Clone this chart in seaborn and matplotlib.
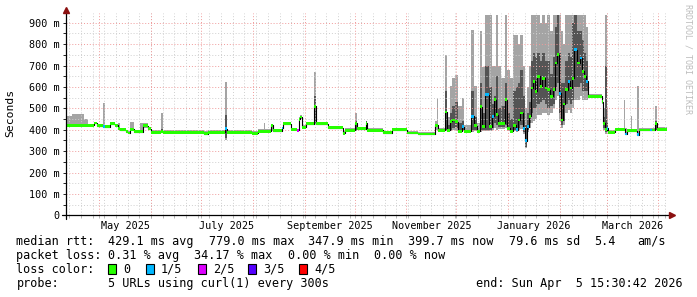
import numpy as np
import pandas as pd
import matplotlib
matplotlib.use("Agg")
import matplotlib.pyplot as plt
import matplotlib.dates as mdates
from matplotlib.patches import Rectangle
from matplotlib.lines import Line2D
import seaborn as sns

nan = float("nan")

# ---------------- data ----------------
start = pd.Timestamp("2025-04-11 01:00")
end = pd.Timestamp("2026-04-06 05:00")

# day offset (from start) at which each step begins
day = [0.0, 3.6, 10.8, 13.2, 16.8, 18.6, 22.2, 23.4, 26.4, 29.4,
       31.2, 32.4, 36.0, 37.4, 38.4, 40.8, 44.4, 46.4, 49.4, 50.9,
       57.2, 58.1, 82.7, 85.1, 95.0, 96.2, 111.5, 115.1, 118.4, 119.3,
       122.8, 124.0, 129.5, 130.3, 135.1, 138.7, 139.6, 140.5, 141.4, 143.8,
       148.7, 149.6, 157.0, 166.0, 167.2, 172.9, 174.1, 179.5, 180.4, 190.0,
       195.4, 204.4, 211.0, 221.2, 222.1, 223.0, 227.0, 228.4, 229.9, 231.4,
       233.2, 235.0, 237.4, 238.5, 242.7, 244.5, 246.3, 248.1, 249.3, 251.1,
       253.2, 255.0, 256.2, 257.4, 258.9, 260.7, 263.1, 264.3, 266.1, 267.9,
       269.7, 270.9, 272.1, 273.9, 275.1, 276.3, 277.5, 278.7, 279.9, 281.1,
       282.3, 284.1, 285.3, 287.1, 288.3, 290.0, 291.8, 293.3, 294.5, 295.4,
       296.6, 297.8, 299.0, 300.8, 302.0, 303.2, 304.4, 306.2, 308.0, 309.2,
       310.4, 311.6, 312.8, 321.2, 322.1, 323.0, 324.2, 325.1, 329.0, 334.1,
       335.0, 336.2, 338.3, 339.2, 341.9, 343.1, 350.0, 350.9, 352.7, 353.9]

# median rtt (ms)
median = [420, 420, 420, 420, 431, 418, 415, 415, 428, 420,
          405, 400, 390, 385, 402, 390, 390, 418, 405, 388,
          390, 388, 382, 388, 405, 388, 383, 392, 392, 392,
          420, 396, 408, 428, 402, 398, 448, 460, 412, 428,
          510, 428, 410, 383, 398, 430, 405, 430, 398, 386,
          400, 385, 380, 420, 420, 398, 483, 398, 440, 446,
          438, 392, 415, 392, 462, 418, 392, 508, 415, 563,
          415, 462, 540, 470, 430, 430, 540, 407, 392, 420,
          400, 446, 478, 407, 348, 414, 462, 595, 626, 579,
          650, 603, 641, 595, 587, 556, 587, 712, 751, 571,
          446, 520, 587, 626, 595, 640, 775, 712, 735, 673,
          649, 626, 556, 532, 430, 400, 407, 388, 402, 402,
          380, 396, 396, 396, 377, 399, 399, 399, 430, 402]

# outer smoke (min / max of the pings, ms)
smoke_lo = [414, 414, 414, 414, 425, 412, 410, 410, 422, 414,
            398, 394, 384, 380, 395, 384, 384, 410, 398, 383,
            383, 383, 377, 383, 350, 383, 378, 386, 386, 386,
            395, 390, 400, 420, 396, 392, 440, 450, 405, 420,
            420, 420, 403, 378, 392, 395, 398, 400, 392, 380,
            394, 379, 374, 400, 400, 390, 395, 390, 395, 400,
            395, 385, 395, 385, 390, 395, 385, 390, 395, 395,
            395, 400, 410, 400, 405, 405, 410, 395, 385, 395,
            390, 400, 405, 380, 315, 390, 410, 430, 440, 450,
            470, 470, 480, 480, 470, 480, 500, 540, 560, 440,
            410, 420, 480, 490, 480, 500, 540, 540, 560, 540,
            540, 540, 548, 520, 400, 380, 390, 380, 396, 396,
            375, 390, 390, 390, 370, 393, 393, 393, 400, 396]
smoke_hi = [462, 475, 452, 428, 438, 425, 527, 422, 435, 428,
            433, 410, 398, 395, 437, 398, 430, 430, 415, 398,
            478, 398, 392, 398, 625, 398, 393, 402, 433, 402,
            428, 405, 415, 436, 410, 405, 458, 468, 420, 437,
            672, 437, 418, 392, 406, 478, 412, 440, 406, 394,
            407, 393, 390, 440, 547, 410, 750, 460, 603, 641,
            657, 510, 547, 420, 864, 603, 430, 860, 695, 937,
            937, 700, 700, 937, 700, 640, 937, 680, 640, 843,
            843, 800, 843, 700, 500, 600, 700, 937, 937, 937,
            937, 900, 937, 900, 937, 860, 937, 937, 937, 937,
            860, 800, 937, 937, 937, 937, 937, 937, 937, 937,
            937, 880, 568, 545, 500, 937, 500, 400, 410, 540,
            410, 405, 462, 405, 604, 406, 406, 406, 510, 414]

# inner (dark) smoke, nan where there is none
core_lo = [nan] * 20 + [388, nan, nan, nan, 360] + [nan] * 15 + \
          [430, nan, nan, nan, nan, 400, nan, 400, nan, nan,
           nan, nan, nan, nan, nan, nan, 400, 395, 400, 410,
           410, 390, 400, 390, 400, 400, 390, 400, 400, 400,
           400, 410, 430, 420, 415, 415, 420, 400, 390, 400,
           395, 410, 420, 390, 320, 400, 430, 480, 500, 500,
           520, 530, 540, 520, 500, 510, 520, 600, 620, 480,
           420, 440, 520, 540, 520, 540, 600, 600, 620, 580,
           580, 580, nan, nan, 410, 390, 395, nan, nan, nan,
           nan, nan, nan, nan, nan, nan, nan, nan, 400, nan]
core_hi = [nan] * 20 + [402, nan, nan, nan, 470] + [nan] * 15 + \
          [560, nan, nan, nan, nan, 440, nan, 440, nan, nan,
           nan, nan, nan, nan, nan, nan, 580, 420, 480, 510,
           530, 430, 440, 395, 580, 460, 400, 620, 480, 700,
           600, 520, 560, 650, 500, 510, 620, 480, 450, 580,
           600, 620, 680, 560, 420, 480, 530, 720, 760, 740,
           760, 720, 760, 720, 720, 660, 740, 880, 937, 760,
           620, 620, 720, 760, 740, 900, 937, 860, 860, 820,
           760, 720, nan, nan, 460, 700, 430, nan, nan, nan,
           nan, nan, nan, nan, nan, nan, nan, nan, 440, nan]

# packet loss per step (number of lost pings out of 5)
loss = [0] * 130
for i in (6, 24, 32, 62, 64, 69, 71, 80, 83, 84, 85, 99, 103, 106, 108,
          111, 116, 120, 124, 126):
    loss[i] = 1
loss[35] = 2

loss_labels = ["0", "1/5", "2/5", "3/5", "4/5"]
loss_colors = ["#26ff00", "#00b8ff", "#dd00ff", "#5500ff", "#ff0000"]

y_ticks = [0, 100, 200, 300, 400, 500, 600, 700, 800, 900]
y_tick_labels = ["0", "100 m", "200 m", "300 m", "400 m", "500 m",
                 "600 m", "700 m", "800 m", "900 m"]
label_months = ["2025-05", "2025-07", "2025-09", "2025-11", "2026-01", "2026-03"]
month_names = ["May 2025", "July 2025", "September 2025", "November 2025",
               "January 2026", "March 2026"]

stats_rtt = ["median rtt:", "429.1 ms avg", "779.0 ms max", "347.9 ms min",
             "399.7 ms now", "79.6 ms sd", "5.4", "am/s"]
stats_loss = ["packet loss:", "0.31 % avg", "34.17 % max", "0.00 % min", "0.00 % now"]
probe_text = ["probe:", "5 URLs using curl(1) every 300s"]
end_text = "end: Sun Apr  5 15:30:42 2026"

# ---------------- layout ----------------
W, H = 697, 297
sns.set_theme(style="white")
plt.rcParams["font.family"] = ["DejaVu Sans Mono", "DejaVu Sans"]
FS = 8.5      # legend / comment text
FA = 7.3      # axis labels

fig = plt.figure(figsize=(W / 100, H / 100), dpi=100)
fig.patch.set_facecolor("white")


def fx(px):
    return px / W


def fy(py):
    return 1 - py / H


Y0, YT = 215.3, 13.0
XL, XR = 66.0, 667.0
ax = fig.add_axes([fx(XL), fy(Y0), fx(XR) - fx(XL), fy(YT) - fy(Y0)])
ax.set_facecolor("white")
for s in ax.spines.values():
    s.set_visible(False)

t0 = mdates.date2num(start)
t1 = mdates.date2num(end)
x = t0 + np.array(day)
xe = np.append(x, t1)
widths = np.diff(xe)
med = np.array(median, float)
ext = lambda a: np.append(a, a[-1])

clo = np.where(np.isnan(core_lo), med, core_lo)
chi = np.where(np.isnan(core_hi), med, core_hi)

ax.fill_between(xe, ext(np.array(smoke_lo, float)), ext(np.array(smoke_hi, float)),
                step="post", color="#a4a4a4", linewidth=0, zorder=2)
ax.fill_between(xe, ext(clo), ext(chi), step="post", color="#545454",
                linewidth=0, zorder=3)

# grid
ymax = (Y0 - YT) / 0.2139
for v in range(50, 950, 50):
    ax.axhline(v, color="#f09a9a" if v % 100 == 0 else "#cfcfcf",
               linestyle=(0, (1, 2)), linewidth=0.7, zorder=4)
month_starts = pd.date_range("2025-05-01", "2026-04-01", freq="MS")
weeks = pd.date_range("2025-04-13", "2026-04-05", freq="7D")
for w in weeks:
    ax.axvline(mdates.date2num(w), color="#cfcfcf", linestyle=(0, (1, 2)),
               linewidth=0.7, zorder=4)
for m in month_starts:
    ax.axvline(mdates.date2num(m), color="#f09a9a", linestyle=(0, (1, 2)),
               linewidth=0.7, zorder=4)

# median line (black, steps) and loss-coloured band
sns.lineplot(x=xe, y=ext(med), drawstyle="steps-post", color="black",
             linewidth=0.8, estimator=None, sort=False, ax=ax, zorder=5)
w = 6.5
ax.bar(x, 2 * w, bottom=med - w, width=widths, align="edge",
       color=[loss_colors[l] for l in loss], linewidth=0, zorder=6)

ax.set_xlim(t0, t1)
ax.set_ylim(0, ymax)

# ticks
mids = []
for m in label_months:
    a = pd.Timestamp(m + "-01")
    b = a + pd.offsets.MonthBegin(1)
    mids.append(mdates.date2num(a + (b - a) / 2))
ax.set_xticks(mids)
ax.set_xticklabels(month_names)
ax.set_xticks([mdates.date2num(d) for d in weeks] +
              [mdates.date2num(d) for d in month_starts], minor=True)
ax.tick_params(axis="x", which="major", length=0, pad=4, labelsize=FA,
               labelcolor="black")
ax.tick_params(axis="x", which="minor", bottom=True, length=2, width=0.6,
               color="#aaaaaa")
ax.set_yticks(y_ticks)
ax.set_yticklabels(y_tick_labels)
ax.set_yticks(list(range(50, 950, 100)), minor=True)
ax.tick_params(axis="y", which="both", left=True, length=2.2, width=0.6,
               color="black", pad=2.2, labelsize=FA, labelcolor="black")
ax.set_xlabel("")
ax.set_ylabel("")

# axis lines with arrows
fig.add_artist(Line2D([fx(62), fx(670)], [fy(Y0), fy(Y0)], color="black",
                      linewidth=0.9, transform=fig.transFigure, zorder=10))
fig.add_artist(Line2D([fx(XL), fx(XL)], [fy(219), fy(12)], color="black",
                      linewidth=0.9, transform=fig.transFigure, zorder=10))
fig.add_artist(Line2D([fx(672)], [fy(Y0)], marker=">", markersize=4.5,
                      color="#8b1010", linestyle="none",
                      transform=fig.transFigure, zorder=11))
fig.add_artist(Line2D([fx(XL)], [fy(10)], marker="^", markersize=4.5,
                      color="#8b1010", linestyle="none",
                      transform=fig.transFigure, zorder=11))

# y label and watermark
fig.text(fx(10), fy(113), "Seconds", rotation=90, ha="center", va="center",
         fontsize=8.2, color="black")
fig.text(fx(688), fy(59), "RRDTOOL / TOBI OETIKER", rotation=-90,
         ha="center", va="center", fontsize=6, color="#bdbdbd")

# stats text
def row(items, xs, yc):
    for t, xp in zip(items, xs):
        fig.text(fx(xp), fy(yc + 4), t, ha="left", va="baseline",
                 fontsize=FS, color="black")


row(stats_rtt, [16.5, 108, 209, 308.5, 408.5, 508.5, 594, 637], 241)
row(stats_loss, [16.5, 108, 194, 288, 374], 255)
row(["loss color:"], [16.5], 269)
box_x = [108, 146, 198, 248, 299]
lab_x = [123, 161, 213, 263, 314]
for lbl, col, bx, lx in zip(loss_labels, loss_colors, box_x, lab_x):
    fig.add_artist(Rectangle((fx(bx), fy(273.5)), fx(8), 9.5 / H,
                             facecolor=col, edgecolor="black", linewidth=0.8,
                             transform=fig.transFigure))
    fig.text(fx(lx), fy(273), lbl, ha="left", va="baseline", fontsize=FS,
             color="black")
row(probe_text, [16.5, 108], 283)
fig.text(fx(683), fy(287), end_text, ha="right", va="baseline", fontsize=FS,
         color="black")

fig.savefig("out.png", dpi=100, facecolor="white")
